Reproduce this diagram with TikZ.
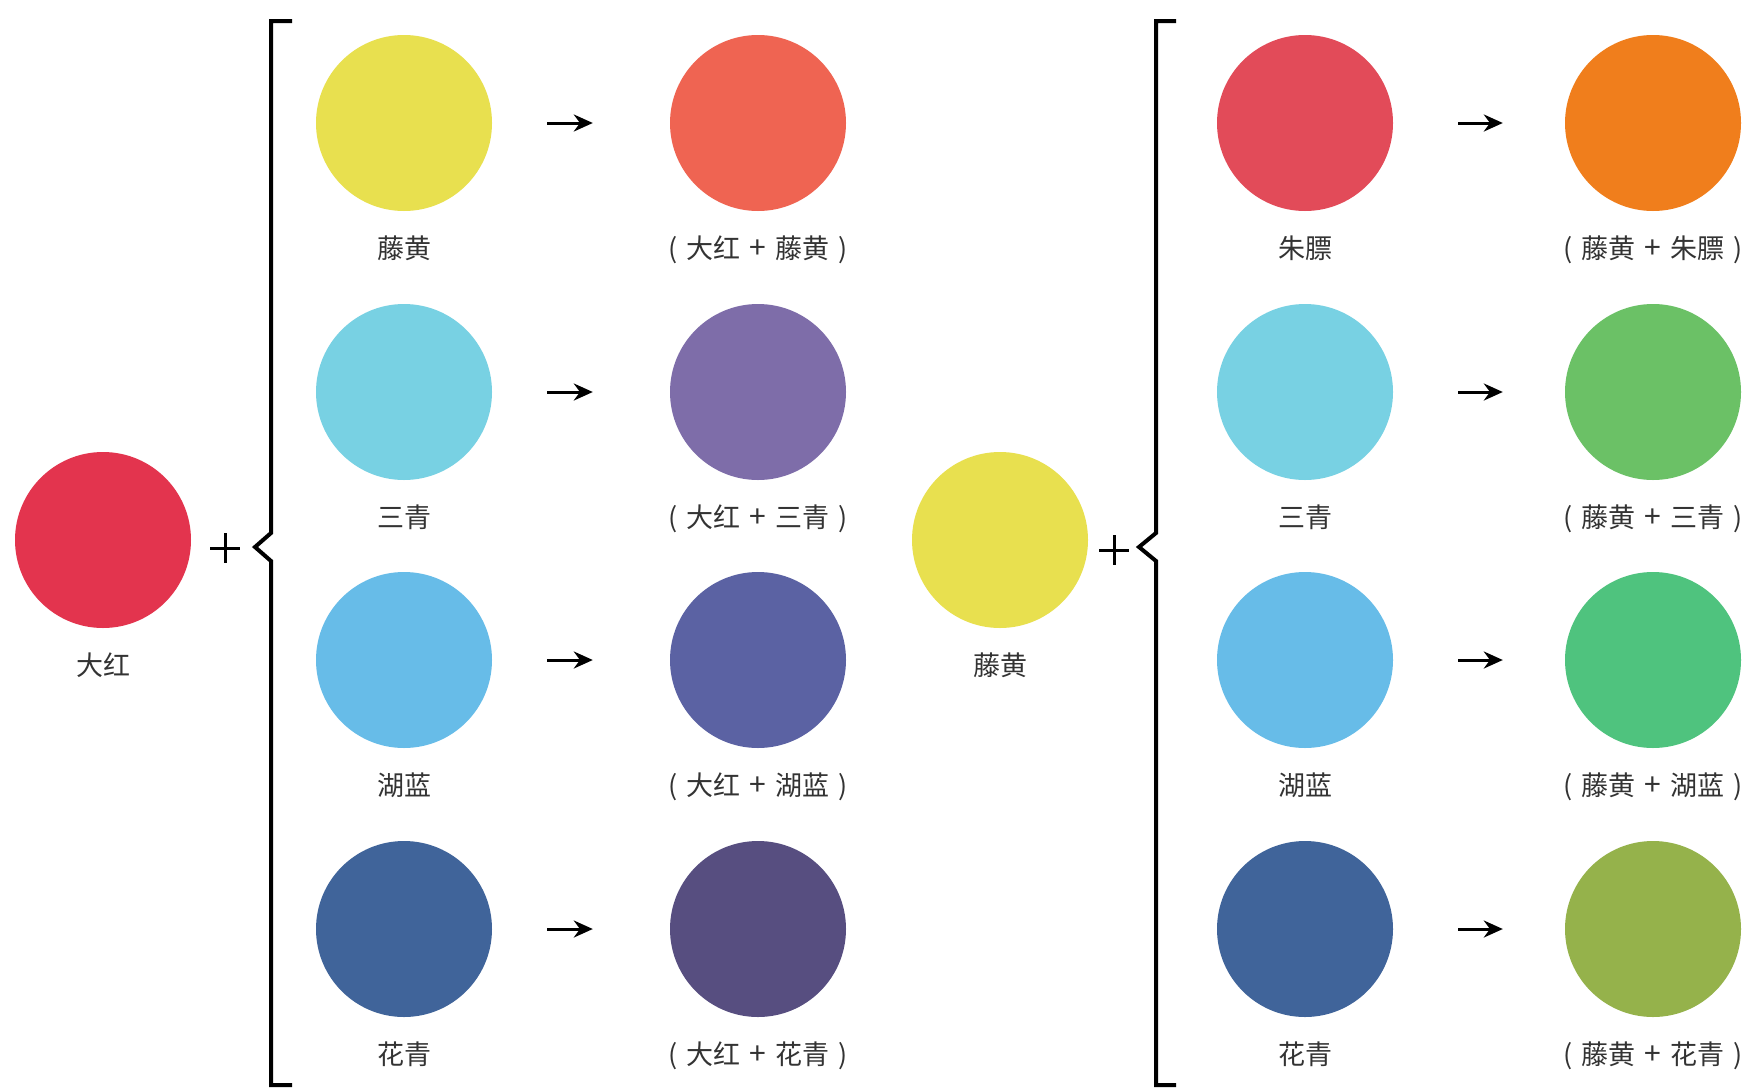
\documentclass[tikz,border=0pt]{standalone}
\usepackage{fontspec}
\newfontfamily\cjk{Noto Sans CJK SC}
\usepackage{tikz}
\usetikzlibrary{arrows.meta,positioning}
\definecolor{dahong}{HTML}{E3344E}
\definecolor{tenghuang}{HTML}{E8E04F}
\definecolor{sanqing}{HTML}{78D1E3}
\definecolor{hulan}{HTML}{67BCE8}
\definecolor{huaqing}{HTML}{40649A}
\definecolor{zhupiao}{HTML}{E24B59}
\definecolor{mixred1}{HTML}{EF6452}
\definecolor{mixred2}{HTML}{7E6DA9}
\definecolor{mixred3}{HTML}{5B62A3}
\definecolor{mixred4}{HTML}{574E80}
\definecolor{mixyel1}{HTML}{F07E1C}
\definecolor{mixyel2}{HTML}{6BC166}
\definecolor{mixyel3}{HTML}{4FC37E}
\definecolor{mixyel4}{HTML}{95B24B}
\definecolor{bk80}{HTML}{333333}
\tikzset{
  paint/.style={
    circle, fill=#1, draw=none,
    minimum size=176pt, inner sep=0pt
  },
  paintname/.style={
    font=\cjk\fontsize{27}{30}\selectfont, text=bk80,
    inner sep=0pt
  },
  mixarrow/.style={
    -{Stealth[length=19pt,width=17pt]}, line width=3pt,
    shorten <=55pt, shorten >=77pt
  },
  mixarrow2/.style={
    mixarrow, shorten <=65pt, shorten >=62pt
  },
  bracketline/.style={line width=4pt, line join=miter},
  plussign/.style={line width=3pt},
}
\newcommand{\mixname}[2]{(\,\,#1\hspace{9pt}{\fontsize{30}{30}\selectfont +}\hspace{9pt}#2\,\,)}
\begin{document}
\begin{tikzpicture}[x=1pt, y=-1pt, node distance=24pt]
\useasboundingbox (0,0) rectangle (1761,1090);
\fill[white] (0,0) rectangle (1761,1090);
% base colours
\node[paint=dahong] (red-base) at (103,540) {};
\node[paintname, below=of red-base] (red-base-name) {大红};
\node[paint=tenghuang] (yellow-base) at (1000,540) {};
\node[paintname, below=of yellow-base] (yellow-base-name) {藤黄};
% plus and brackets
\draw[plussign] (210,548) -- (240,548) (225,533) -- (225,563);
\draw[plussign] (1099,550) -- (1129,550) (1114,535) -- (1114,565);
\draw[bracketline] (292,21) -- (271,21) -- (271,533) -- (255,547) -- (271,561) -- (271,1085) -- (292,1085);
\draw[bracketline] (1176,21) -- (1156,21) -- (1156,533) -- (1139,547) -- (1156,561) -- (1156,1085) -- (1176,1085);
% dahong mixes
\node[paint=tenghuang] (red-add1) at (404,123) {};
\node[paint=sanqing] (red-add2) at (404,392) {};
\node[paint=hulan] (red-add3) at (404,660) {};
\node[paint=huaqing] (red-add4) at (404,929) {};
\node[paint=mixred1] (red-mix1) at (758,123) {};
\node[paint=mixred2] (red-mix2) at (758,392) {};
\node[paint=mixred3] (red-mix3) at (758,660) {};
\node[paint=mixred4] (red-mix4) at (758,929) {};
\node[paintname, below=of red-add1] {藤黄};
\node[paintname, below=of red-add2] {三青};
\node[paintname, below=of red-add3] {湖蓝};
\node[paintname, below=of red-add4] {花青};
\node[paintname, below=of red-mix1] {\mixname{大红}{藤黄}};
\node[paintname, below=of red-mix2] {\mixname{大红}{三青}};
\node[paintname, below=of red-mix3] {\mixname{大红}{湖蓝}};
\node[paintname, below=of red-mix4] {\mixname{大红}{花青}};
\draw[mixarrow] (red-add1) -- (red-mix1);
\draw[mixarrow] (red-add2) -- (red-mix2);
\draw[mixarrow] (red-add3) -- (red-mix3);
\draw[mixarrow] (red-add4) -- (red-mix4);
% tenghuang mixes
\node[paint=zhupiao] (yellow-add1) at (1305,123) {};
\node[paint=sanqing] (yellow-add2) at (1305,392) {};
\node[paint=hulan] (yellow-add3) at (1305,660) {};
\node[paint=huaqing] (yellow-add4) at (1305,929) {};
\node[paint=mixyel1] (yellow-mix1) at (1653,123) {};
\node[paint=mixyel2] (yellow-mix2) at (1653,392) {};
\node[paint=mixyel3] (yellow-mix3) at (1653,660) {};
\node[paint=mixyel4] (yellow-mix4) at (1653,929) {};
\node[paintname, below=of yellow-add1] {朱膘};
\node[paintname, below=of yellow-add2] {三青};
\node[paintname, below=of yellow-add3] {湖蓝};
\node[paintname, below=of yellow-add4] {花青};
\node[paintname, below=of yellow-mix1] {\mixname{藤黄}{朱膘}};
\node[paintname, below=of yellow-mix2] {\mixname{藤黄}{三青}};
\node[paintname, below=of yellow-mix3] {\mixname{藤黄}{湖蓝}};
\node[paintname, below=of yellow-mix4] {\mixname{藤黄}{花青}};
\draw[mixarrow2] (yellow-add1) -- (yellow-mix1);
\draw[mixarrow2] (yellow-add2) -- (yellow-mix2);
\draw[mixarrow2] (yellow-add3) -- (yellow-mix3);
\draw[mixarrow2] (yellow-add4) -- (yellow-mix4);
\end{tikzpicture}
\end{document}
